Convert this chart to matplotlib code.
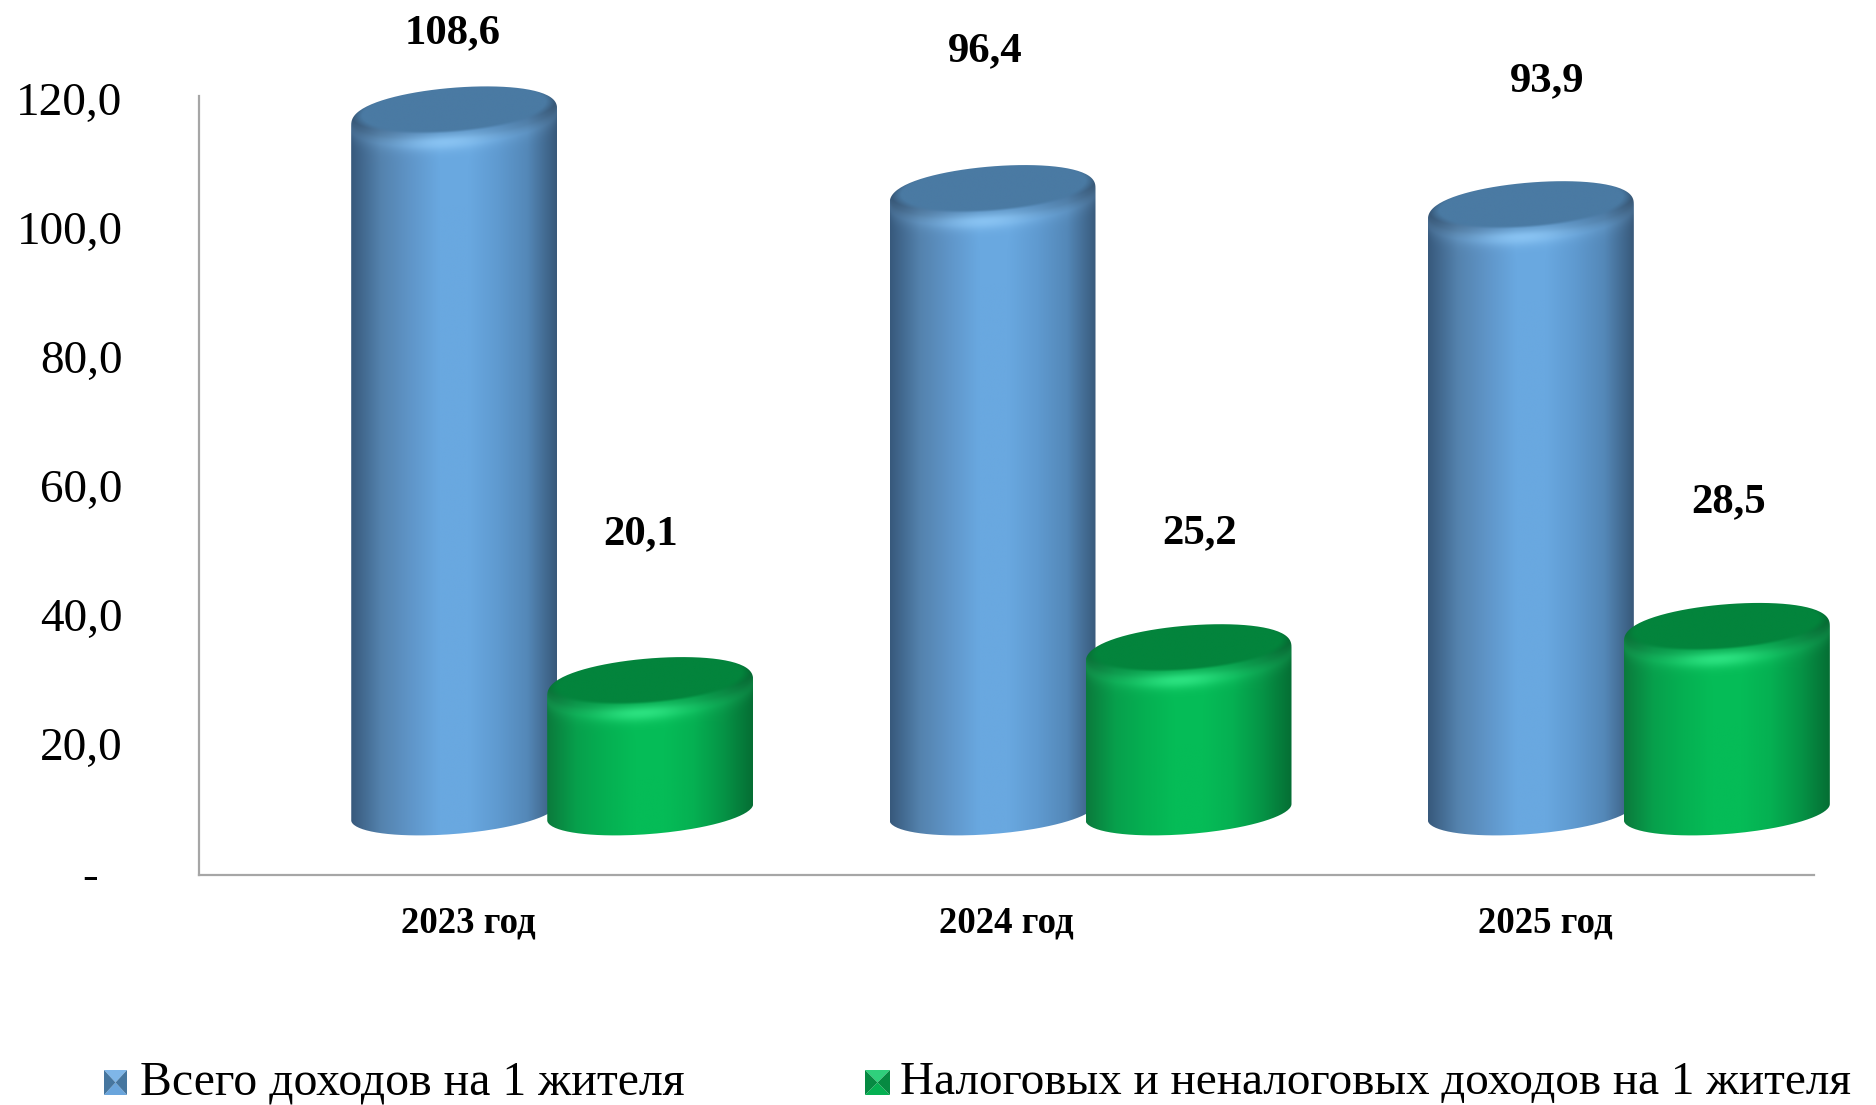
import numpy as np
import matplotlib
matplotlib.use('Agg')
import matplotlib.pyplot as plt
from matplotlib.path import Path
from matplotlib.patches import PathPatch, Polygon
from matplotlib.transforms import ScaledTranslation

plt.rcParams['font.family'] = ['Liberation Serif', 'DejaVu Serif']

# data
years = ['2023 год', '2024 год', '2025 год']
total_income = [108.6, 96.4, 93.9]
tax_income = [20.1, 25.2, 28.5]
value_labels_total = ['108,6', '96,4', '93,9']
value_labels_tax = ['20,1', '25,2', '28,5']
y_ticks = [0, 20, 40, 60, 80, 100, 120]
y_tick_labels = ['-  ', '20,0', '40,0', '60,0', '80,0', '100,0', '120,0']
legend_names = ['Всего доходов на 1 жителя', 'Налоговых и неналоговых доходов на 1 жителя']

# labels were moved by hand in the original chart (pixels in the 1876 wide picture)
label_px_total = [(453, 33), (985, 51), (1547, 81)]
label_px_tax = [(641, 534), (1200, 533), (1729, 502)]

# colours: stops across the cylinder, left to right
blue_stops = ['#37597c', '#5482ad', '#5f95c8', '#69a8e0', '#69a8e0', '#5f9ad0', '#5488b8', '#38597a']
green_stops = ['#0b7a3c', '#07a04c', '#05b052', '#05bc57', '#05bc57', '#05b052', '#069446', '#056e34']
blue_top, blue_hi = '#4a7aa3', '#8cc6f5'
green_top, green_hi = '#03843c', '#2fe684'

W, H = 1876, 1105
AX_L, AX_R, AX_T, AX_B = 199, 1814, 96, 875
fig = plt.figure(figsize=(W / 100, H / 100), dpi=100, facecolor='white')
ax = fig.add_axes([AX_L / W, 1 - AX_B / H, (AX_R - AX_L) / W, (AX_B - AX_T) / H])
ax.set_xlim(0, 3)
ax.set_ylim(0, 120.8)

PX_X = (AX_R - AX_L) / 3        # pixels per category
PX_Y = (AX_B - AX_T) / 120.8    # pixels per unit
BAR_W = 206 / PX_X
BASE = 63 / PX_Y                # 3D floor lifts the bars above the axis
TOP_DROP = 6 / PX_Y             # rounded cap sits a little under the true height


def rgb(c):
    return np.array(matplotlib.colors.to_rgb(c))


def cylinder(ax, cx, value, stops, top_col, hi_col, zorder):
    a = BAR_W / 2
    y0, y1 = BASE, BASE + value - TOP_DROP
    tilt = 8 / PX_Y
    b_top = 30 / PX_Y
    b_bot = 22 / PX_Y

    # silhouette, back arc with rounded shoulders
    t = np.linspace(0, np.pi, 80)
    back = np.c_[cx + a * np.cos(t), y1 + b_top * np.sin(t) ** 0.8 + tilt * np.cos(t)]
    t = np.linspace(np.pi, 2 * np.pi, 80)
    front = np.c_[cx + a * np.cos(t), y0 + b_bot * np.sin(t) + tilt * np.cos(t)]
    verts = np.vstack([back, front, back[:1]])
    patch = PathPatch(Path(verts), fc='none', ec='none', transform=ax.transData)
    ax.add_patch(patch)

    # shading image
    ny = int((y1 - y0 + 2 * b_top) * PX_Y * 1.5)
    xs = np.linspace(-1, 1, 300)
    ys = np.linspace(y0 - b_bot - tilt, y1 + b_top + tilt, ny)
    U, Y = np.meshgrid(xs, ys)
    pos = np.linspace(-1, 1, len(stops))
    cols = np.array([rgb(c) for c in stops])
    img = np.dstack([np.interp(U, pos, cols[:, i]) for i in range(3)])

    # bevel lip round the front of the top
    root = np.sqrt(np.clip(1 - U ** 2, 0, 1))
    d = Y - (y1 - b_top * 0.8 * root + tilt * U)
    shade = np.clip(d * PX_Y / 8.0 + 0.5, 0, 1)[..., None]
    img = img * (1 - 0.14 * shade)
    glow = np.exp(-(d * PX_Y / 8.0) ** 2) * np.exp(-((U + 0.08) / 0.45) ** 2) * 0.75
    edge = np.exp(-(d * PX_Y / 11.0) ** 2) * 0.16
    amount = np.clip(glow + edge, 0, 1)[..., None]
    img = img * (1 - amount) + rgb(hi_col) * amount

    # flat top face
    in_a = 0.95
    in_b = 23 / PX_Y
    in_cy = y1 + 9 / PX_Y
    face = ((U / in_a) ** 2 + ((Y - in_cy - tilt * U) / in_b) ** 2)
    blend = np.clip((1.10 - face) / 0.22, 0, 1)[..., None]
    img = img * (1 - blend) + rgb(top_col) * blend

    im = ax.imshow(img, origin='lower', aspect='auto', interpolation='bilinear',
                   extent=[cx - a, cx + a, ys[0], ys[-1]], zorder=zorder)
    im.set_clip_box(fig.bbox)
    im.set_clip_path(patch)


def px_to_data(px, py):
    return (px - AX_L) / PX_X, (AX_B - py) / PX_Y


for i in range(len(years)):
    c = i + 0.5
    cylinder(ax, c - 14 / PX_X, total_income[i], blue_stops, blue_top, blue_hi, 2 + i)
    cylinder(ax, c + 182 / PX_X, tax_income[i], green_stops, green_top, green_hi, 2.5 + i)
    x, y = px_to_data(*label_px_total[i])
    ax.text(x, y, value_labels_total[i], ha='center', va='center',
            fontsize=30.8, fontweight='bold', clip_on=False, zorder=9)
    x, y = px_to_data(*label_px_tax[i])
    ax.text(x, y, value_labels_tax[i], ha='center', va='center',
            fontsize=30.8, fontweight='bold', clip_on=False, zorder=9)

ax.set_xlim(0, 3)
ax.set_ylim(0, 120.8)

# axes
ax.set_xticks(np.arange(len(years)) + 0.5)
ax.set_xticklabels(years, fontsize=26.5, fontweight='bold')
ax.set_yticks(y_ticks)
ax.set_yticklabels(y_tick_labels, fontsize=34)
ax.tick_params(axis='x', length=0, pad=22)
ax.tick_params(axis='y', length=0, pad=55)
# tick_params resets the label transforms, so nudge the labels after it
shift = ScaledTranslation(0, -3 / 100, fig.dpi_scale_trans)
for lab in ax.get_yticklabels():
    lab.set_verticalalignment('center')
    lab.set_transform(lab.get_transform() + shift)
for s in ['top', 'right']:
    ax.spines[s].set_visible(False)
for s in ['left', 'bottom']:
    ax.spines[s].set_color('#a6a6a6')
    ax.spines[s].set_linewidth(1.6)


# legend, drawn by hand because of the bevelled swatches
def swatch(x0, y0, size_x, size_y, light, mid, dark):
    sax = fig.add_axes([x0 / W, 1 - (y0 + size_y) / H, size_x / W, size_y / H])
    sax.set_xlim(0, 1)
    sax.set_ylim(0, 1)
    sax.axis('off')
    sax.add_patch(Polygon([(0, 1), (1, 1), (0.5, 0.5)], fc=light, ec='none'))
    sax.add_patch(Polygon([(0, 0), (1, 0), (0.5, 0.5)], fc=mid, ec='none'))
    sax.add_patch(Polygon([(0, 0), (0, 1), (0.5, 0.5)], fc=dark, ec='none'))
    sax.add_patch(Polygon([(1, 0), (1, 1), (0.5, 0.5)], fc=dark, ec='none'))


swatch(104, 1070, 23, 25, '#7fb6e8', '#6aa5dc', '#46769f')
swatch(865, 1070, 25, 25, '#2fd07c', '#05b052', '#068a42')
fig.text(140 / W, 1 - 1083 / H, legend_names[0], fontsize=34.4, va='center', ha='left')
fig.text(900 / W, 1 - 1083 / H, legend_names[1], fontsize=33.9, va='center', ha='left')

fig.savefig('out.png', dpi=100, facecolor='white')
